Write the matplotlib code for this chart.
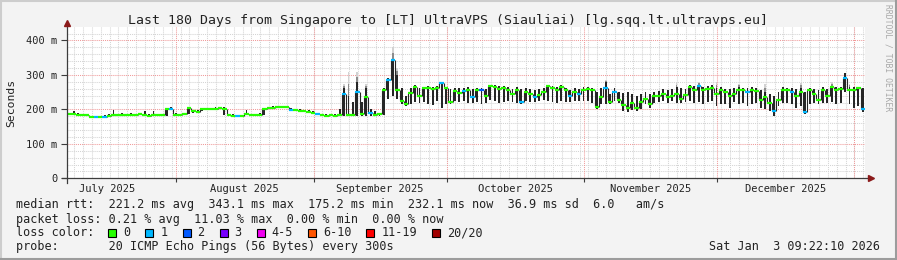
import datetime as dt
import matplotlib
matplotlib.use('Agg')
import matplotlib.pyplot as plt
from matplotlib.lines import Line2D
from matplotlib.patches import Rectangle
from matplotlib.collections import LineCollection

# one value per day, 180 days, milliseconds
median_ms = [
    187, 186, 185, 184, 183, 178, 177, 177, 179, 181, 183, 184, 185, 184, 185, 184, 186, 183, 182, 185,
    183, 184, 200, 202, 185, 184, 186, 204, 194, 193, 200, 200, 201, 202, 203, 202, 183, 182, 180, 181,
    186, 184, 183, 185, 200, 204, 205, 206, 207, 206, 199, 197, 196, 195, 193, 190, 186, 183, 182,
    183, 182, 184, 245, 185, 183, 250, 188, 235, 190, 184, 186,
    255, 285, 342, 255, 224, 216, 249, 265, 238, 261,
    263, 258, 262, 276, 261, 222, 254, 248, 254, 257,
    236, 257, 255, 240, 267, 265, 258, 262, 255, 245,
    257, 222, 250, 245, 236, 242, 250, 267, 262, 257,
    265, 255, 238, 250, 245, 257, 258, 255, 207, 236,
    262, 222, 250, 228, 212, 203, 218, 205, 222, 231,
    217, 240, 238, 245, 235, 240, 245, 231, 242, 264,
    257, 267, 255, 260, 262, 245, 257, 250, 240, 245,
    257, 255, 250, 257, 254, 226, 235, 220, 195, 226,
    257, 255, 250, 240, 250, 193, 255, 245, 226, 257,
    240, 264, 255, 260, 290, 257, 255, 262, 200,
]
smoke_lo = [
    184, 183, 182, 181, 180, 175, 174, 174, 176, 178, 180, 181, 182, 181, 182, 181, 183, 180, 179, 182,
    180, 181, 182, 198, 182, 181, 183, 186, 190, 190, 196, 197, 198, 199, 200, 183, 180, 179, 177, 178,
    183, 181, 180, 182, 184, 200, 202, 203, 204, 203, 196, 194, 193, 192, 190, 187, 183, 180, 179,
    180, 179, 180, 180, 180, 180, 182, 180, 181, 180, 180, 182,
    185, 230, 240, 230, 215, 210, 215, 222, 220, 222,
    215, 214, 225, 205, 215, 215, 225, 222, 225, 220,
    218, 222, 217, 220, 228, 225, 220, 222, 225, 222,
    220, 215, 225, 222, 222, 225, 228, 225, 222, 218,
    225, 222, 222, 225, 225, 225, 225, 220, 202, 217,
    217, 215, 225, 218, 195, 193, 198, 195, 200, 215,
    205, 220, 222, 225, 220, 225, 220, 218, 222, 225,
    220, 222, 215, 222, 225, 210, 215, 215, 205, 222,
    215, 220, 210, 215, 218, 205, 200, 195, 182, 210,
    220, 220, 215, 205, 210, 188, 215, 220, 215, 220,
    218, 222, 215, 220, 250, 215, 205, 210, 193,
]
smoke_hi = [
    190, 195, 189, 188, 187, 182, 181, 181, 184, 186, 197, 188, 189, 188, 189, 188, 190, 195, 186, 194,
    187, 188, 205, 206, 189, 188, 190, 208, 198, 197, 204, 204, 205, 206, 207, 206, 187, 186, 184, 185,
    197, 188, 187, 189, 204, 208, 209, 210, 211, 210, 203, 201, 200, 199, 197, 195, 190, 187, 186,
    186, 188, 200, 262, 240, 222, 279, 222, 261, 200, 195, 190,
    262, 290, 345, 300, 262, 240, 262, 270, 262, 266,
    268, 266, 268, 280, 266, 260, 262, 262, 262, 264,
    258, 262, 262, 258, 272, 270, 268, 267, 264, 260,
    264, 258, 262, 260, 255, 258, 262, 272, 268, 265,
    270, 262, 257, 262, 260, 264, 264, 262, 250, 262,
    279, 245, 262, 250, 248, 250, 245, 240, 245, 250,
    245, 250, 252, 260, 255, 260, 265, 262, 258, 270,
    268, 272, 265, 268, 270, 262, 264, 260, 258, 262,
    264, 262, 262, 264, 262, 255, 250, 245, 240, 250,
    264, 262, 262, 260, 262, 250, 262, 260, 255, 264,
    260, 268, 264, 266, 305, 264, 264, 266, 262,
]
# light smoke reaching above the dense part
peak_days = [62, 63, 65, 67, 73, 74, 121, 137, 142, 146, 151, 157, 165, 172, 176]
peak_ms = [275, 308, 308, 275, 380, 320, 285, 278, 280, 280, 275, 275, 278, 280, 275]

# loss class per day (index into loss_colors); 0 unless listed
loss_days = [6, 8, 23, 38, 50, 56, 62, 65, 68, 72, 73, 84, 89, 91, 93, 102, 105, 113, 115,
             121, 123, 142, 153, 159, 163, 166, 175, 179]
loss_class = [1, 1, 1, 1, 1, 1, 1, 1, 1, 1, 1, 1, 1, 1, 2, 1, 1, 1, 1,
              1, 1, 1, 1, 1, 1, 1, 1, 1]

loss_labels = ['0', '1', '2', '3', '4-5', '6-10', '11-19', '20/20']
loss_colors = ['#26ff00', '#00b8ff', '#0059ff', '#7800ff', '#f000f0', '#ff5500', '#ff0000', '#a10000']

month_labels = ['July 2025', 'August 2025', 'September 2025', 'October 2025',
                'November 2025', 'December 2025']
yticks = [0, 100, 200, 300, 400]
ytick_labels = ['0', '100 m', '200 m', '300 m', '400 m']

start = dt.datetime(2025, 7, 7, 9, 22, 10)


def days_from_start(d):
    return (d - start).total_seconds() / 86400.0


W, H = 897, 260
fig = plt.figure(figsize=(W / 100, H / 100), dpi=100, facecolor='#f3f3f3')


def fx(px):
    return px / W


def fy(py):
    return 1 - py / H


ax = fig.add_axes([fx(67), fy(178.3), 798 / W, 151.6 / H], facecolor='white')
ax.set_xlim(0, 180)
ax.set_ylim(0, 440)
for s in ax.spines.values():
    s.set_visible(False)

# grid
dots = (0, (1, 1))
for v in range(20, 440, 20):
    if v % 100:
        ax.axhline(v, color='#d4d4d4', lw=0.75, ls=dots, zorder=0.5)
for v in yticks[1:]:
    ax.axhline(v, color='#f09a9a', lw=0.75, ls=dots, zorder=0.6)

d = dt.datetime(2025, 7, 9)
while days_from_start(d) < 180:
    ax.axvline(days_from_start(d), color='#d4d4d4', lw=0.75, ls=dots, zorder=0.5)
    d += dt.timedelta(days=2)

month_starts = [dt.datetime(2025, m, 1) for m in range(7, 13)] + [dt.datetime(2026, 1, 1)]
month_pos = [days_from_start(m) for m in month_starts]
for p in month_pos[1:]:
    ax.axvline(p, color='#f09a9a', lw=0.75, ls=dots, zorder=0.6)

# smoke
n = len(median_ms)
xs = [i + 0.5 for i in range(n)]
px = [peak_days[k] + 0.5 for k in range(len(peak_days))]
ax.bar(px, [peak_ms[k] - smoke_hi[peak_days[k]] for k in range(len(peak_days))],
       bottom=[smoke_hi[p] for p in peak_days], width=0.4, color='#d2d2d2', lw=0, zorder=1.8)
ax.bar(px, [(peak_ms[k] - smoke_hi[peak_days[k]]) * 0.5 for k in range(len(peak_days))],
       bottom=[smoke_hi[p] for p in peak_days], width=0.4, color='#8c8c8c', lw=0, zorder=1.9)
ax.bar(xs, [smoke_hi[i] - smoke_lo[i] for i in range(n)], bottom=smoke_lo,
       width=0.42, color='#262626', lw=0, zorder=2)

# median line coloured by loss
cls = [0] * n
for dday, c in zip(loss_days, loss_class):
    cls[dday] = c
horiz = [[(i, median_ms[i]), (i + 1, median_ms[i])] for i in range(n)]
ax.add_collection(LineCollection(horiz, colors=[loss_colors[c] for c in cls],
                                 linewidths=1.6, capstyle='butt', zorder=3))
vert = [[(i + 1, median_ms[i]), (i + 1, median_ms[i + 1])] for i in range(n - 1)]
ax.add_collection(LineCollection(vert, colors='#262626', linewidths=0.8, zorder=2.9))

# axes lines with arrows
axis_col = '#3c3c3c'
ax.plot([-0.006, 1.004], [0, 0], transform=ax.transAxes, color=axis_col, lw=0.9,
        clip_on=False, zorder=4)
ax.plot([0, 0], [-0.03, 1.02], transform=ax.transAxes, color=axis_col, lw=0.9,
        clip_on=False, zorder=4)
ax.plot([1.008], [0], transform=ax.transAxes, marker='>', ms=4.5, color='#8b1a1a',
        mec='#8b1a1a', clip_on=False, zorder=5)
ax.plot([0], [1.022], transform=ax.transAxes, marker='^', ms=4.5, color='#8b1a1a',
        mec='#8b1a1a', clip_on=False, zorder=5)

mono = 'DejaVu Sans Mono'
ax.set_yticks(yticks, ytick_labels, fontsize=7.5, family=mono)
ax.tick_params(axis='y', length=4, width=0.8, color=axis_col, pad=3, labelcolor='#222222')
mids = [(month_pos[k] + month_pos[k + 1]) / 2 for k in range(6)]
ax.set_xticks(mids, month_labels, fontsize=7.5, family=mono)
ax.tick_params(axis='x', length=0, pad=4, labelcolor='#222222')
ax.set_xticks(month_pos[1:6], minor=True)
ax.tick_params(axis='x', which='minor', length=3, width=0.8, color=axis_col)

# texts
fig.text(fx(447.5), fy(24), 'Last 180 Days from Singapore to [LT] UltraVPS (Siauliai) [lg.sqq.lt.ultravps.eu]',
         ha='center', va='baseline', fontsize=9.55, family=mono, color='#222222')
fig.text(fx(11), fy(103), 'Seconds', rotation=90, ha='center', va='center',
         fontsize=8.2, family=mono, color='#222222')
fig.text(fx(888), fy(58), 'RRDTOOL / TOBI OETIKER', rotation=270, ha='center', va='center',
         fontsize=5.8, family=mono, color='#a8a8a8')

legend_lines = [
    'median rtt:  221.2 ms avg  343.1 ms max  175.2 ms min  232.1 ms now  36.9 ms sd  6.0   am/s',
    'packet loss: 0.21 % avg  11.03 % max  0.00 % min  0.00 % now',
    'loss color:',
    'probe:       20 ICMP Echo Pings (56 Bytes) every 300s',
]
baselines = [208.3, 222.7, 236.2, 250.2]
for txt, b in zip(legend_lines, baselines):
    fig.text(fx(16), fy(b), txt, ha='left', va='baseline', fontsize=8.5, family=mono, color='#222222')
fig.text(fx(880), fy(250.2), 'Sat Jan  3 09:22:10 2026', ha='right', va='baseline',
         fontsize=8.5, family=mono, color='#222222')

char_w = 7.1
bx = 108.3
for lab, col in zip(loss_labels, loss_colors):
    fig.add_artist(Rectangle((fx(bx), fy(237.3)), 8 / W, 8 / H, transform=fig.transFigure,
                             facecolor=col, edgecolor='black', lw=0.8))
    fig.text(fx(bx + 15), fy(236.2), lab, ha='left', va='baseline', fontsize=8.5,
             family=mono, color='#222222')
    bx += 15 + char_w * len(lab) + 15

# bevelled border
fig.add_artist(Line2D([0, 1], [fy(0.8), fy(0.8)], color='#cdcdcd', lw=1.5, transform=fig.transFigure))
fig.add_artist(Line2D([fx(0.8), fx(0.8)], [0, 1], color='#cdcdcd', lw=1.5, transform=fig.transFigure))
fig.add_artist(Line2D([0, 1], [fy(259.2), fy(259.2)], color='#9c9c9c', lw=1.5, transform=fig.transFigure))
fig.add_artist(Line2D([fx(896.2), fx(896.2)], [0, 1], color='#9c9c9c', lw=1.5, transform=fig.transFigure))

fig.savefig('out.png', dpi=100, facecolor=fig.get_facecolor())
